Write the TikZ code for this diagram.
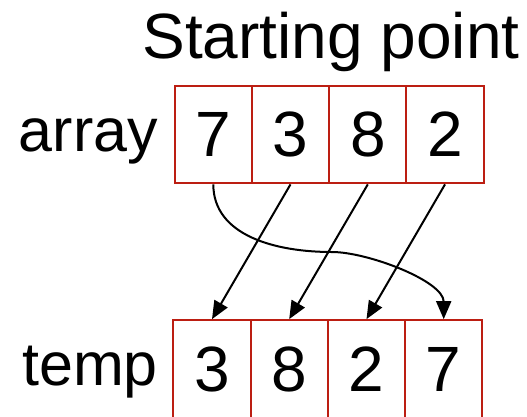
\documentclass[tikz,border=0pt]{standalone}
\usepackage{fontspec}
\setmainfont{Liberation Sans}
\usetikzlibrary{arrows.meta}
\definecolor{boxred}{RGB}{188,30,18}
\tikzset{
  cell/.style={draw=boxred, line width=2bp, minimum width=77.3bp, minimum height=97.7bp,
    inner sep=0pt, font=\fontsize{64bp}{70bp}\selectfont},
  lbl/.style={inner sep=0pt, font=\fontsize{61bp}{70bp}\selectfont},
  ttl/.style={inner sep=0pt, font=\fontsize{64bp}{70bp}\selectfont},
  conn/.style={line width=2bp, -{Triangle[length=18bp,width=15bp]}}
}
\begin{document}
\begin{tikzpicture}[x=1bp,y=-1bp]
\useasboundingbox (0,0) rectangle (527,416);
\clip (0,0) rectangle (527,416);
\node[ttl, anchor=base] (title) at (331,58.3) {Starting point};
\node[cell] (a1) at (213.3,134.5) {7};
\node[cell] (a2) at (290.5,134.5) {3};
\node[cell] (a3) at (367.8,134.5) {8};
\node[cell] (a4) at (445.0,134.5) {2};
\node[lbl, anchor=base east] (arr) at (158,151.7) {array};
\node[cell] (b1) at (212.0,369) {3};
\node[cell] (b2) at (289.2,369) {8};
\node[cell] (b3) at (366.5,369) {2};
\node[cell] (b4) at (443.7,369) {7};
\node[lbl, anchor=base east] (tmp) at (158,385) {temp};
\coordinate (mid) at (332,252);
\draw[conn] (a2.south) -- (b1.north);
\draw[conn] (a3.south) -- (b2.north);
\draw[conn] (a4.south) -- (b3.north);
\draw[conn] (a1.south) .. controls +(0,51) and +(-57,0) .. (mid)
  .. controls +(36,0) and +(0,-38) .. (b4.north);
\end{tikzpicture}
\end{document}
